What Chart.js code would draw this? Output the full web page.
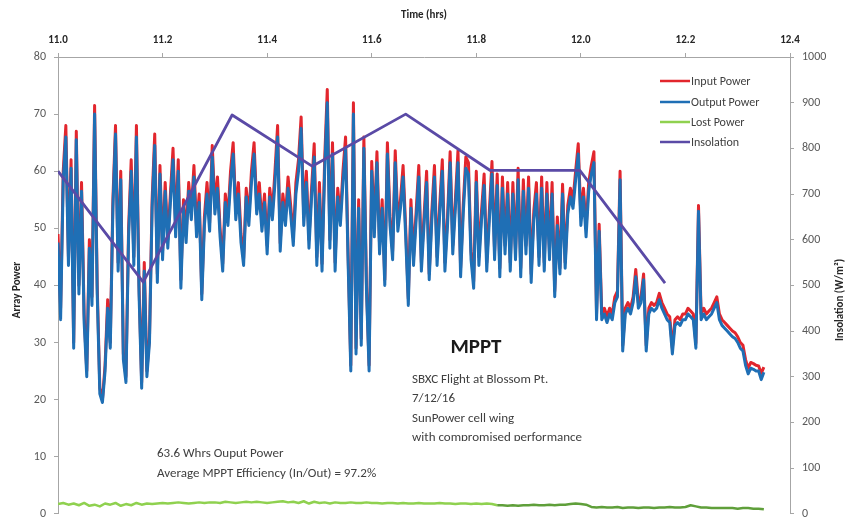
<!DOCTYPE html>
<html>
<head>
<meta charset="utf-8">
<script src="https://cdn.jsdelivr.net/npm/chart.js@4/dist/chart.umd.min.js"></script>
<style>
html,body{margin:0;padding:0;background:#ffffff;}
canvas{display:block;}
</style>
</head>
<body>
<canvas id="c" width="851" height="529"></canvas>
<script>
// ---- Data ----
const sampleStart = 11.0;      // hrs
const sampleStep = 0.005;      // hrs between samples

const inputPower = [
49,36,60,68,45,62,30,67,40,58,35,25,48,38,71.5,40,22,20,26,37.5,
30,55,68,44,60,28,24,50,62,45,68,40,23,44,25,31,55,66.5,42,61,
46,58,48,56,64,50,62,41,55,49,58,53,61,50,56,38.5,52,58,51,64.5,
54,59,50,43.8,56,52,60,65,53,58,49,44.7,57,52,60,65,54,58,51,56,
47,57,53,60,68,47.4,56,52,59,54,48.4,58,62,69.5,52,60,48,57,64.8,45,
58,43.8,62,74.3,48,65,44,57,52,60,66,45,26,72,29,55,30.7,66,40,26,
61.7,50,63.4,47,55,41,65,52,46,63.6,51,55,61,50,37.7,55,45,53,61,44,
52,60,42,53,61,45,54,62,44,52,63.4,47,55,63.6,43,54,62.5,61.5,46,40.7,
60,45,53,59.5,44,53,61.7,46,59.5,43,59,47,58,44,58,46,60.5,43,58.5,47,
59,42,53,58,45,59,44,58,46,58,39,52,43,57.7,44,54,57,55,60,64.8,
52,57,50,58,61,63.4,35,50.7,35,36,34.5,36,35,38,39,60,29.5,36,37,36,
38,42.8,37,38,42,29.5,36,37,36.5,37,38.6,37,36,35,34.5,29,34,34.5,34,35,
35,36,35.5,35,29.8,54,35,36,35,35.5,36,37,38,35,34,33.5,33,32.5,32,31.7,
31,30,29.5,27,25.5,26.5,26.3,26,25.9,24.6,25.7
];

const outputPower = [
47.5,34,58.5,66,43.5,60.5,29,65.5,38.5,56.5,33.5,24,46.5,36.5,70,38.5,21,19.5,25,36,
29,53.5,66.5,42.5,58.5,27,23,48.5,60,43.5,66,38.5,22,42.5,24,30,53.5,64.5,40.5,59.5,
44.5,56.5,46.5,54.5,62,48.5,60,39.5,53.5,47.5,56.5,51.5,59,48.5,54.5,37.5,50.5,56,49.5,62.5,
52.5,57,48.5,42.5,54.5,50.5,58,63,51.5,56,47.5,43.5,55.5,50.5,58,63,52.5,56,49.5,54.5,
45.5,55.5,51.5,58,66,46,54.5,50.5,57,52.5,47,56,60,67.5,50.5,58,46.5,55.5,62.5,43.5,
56,42.5,60,72,46.5,63,42.5,55.5,50.5,58,64,43.5,25,70,28,53.5,29.5,64,39,25,
60,48.5,61.5,45.5,53.5,40,63,50.5,44.5,61.5,49.5,53.5,59,48.5,36.5,53.5,43.5,51.5,59,42.5,
50.5,58,41,51.5,59,43.5,52.5,60,42.5,50.5,61.5,45.5,53.5,61.5,41.5,52.5,60.5,59.5,44.5,39.5,
58,43.5,51.5,57.5,42.5,51.5,59.5,44.5,57.5,41.5,57,45.5,56,42.5,56,44.5,58.5,41.5,56.5,45.5,
57,40.5,51.5,56,43.5,57,42.5,56,44.5,56,38,50.5,42,56,43,52.5,55.5,53.5,58.5,63,
50.5,55.5,48.5,56.5,59.5,61.5,34,49.5,34,35,33.5,35,34,37,38,58.5,28.5,35,36,35,
37,41.5,36,37,41,28.5,35,36,35.5,36,37.5,36,35,34,33.5,28,33,33.5,33,34,
34,35,34.5,34,29,53,34,35,34,34.5,35,36,37,34,33,32.5,32,31.5,31,30.7,
30,29,28.5,26,24.5,25.5,25.3,25,25,23.5,24.8
];

const lostStep = 0.01;         // hrs between lost-power samples
const lostPower = [
1.7,1.9,1.6,1.8,1.5,1.9,1.4,1.6,1.3,1.8,1.6,1.9,1.4,1.7,1.5,1.9,1.6,1.8,1.7,
1.8,1.9,1.8,1.9,2.0,1.9,1.8,1.9,2.0,1.9,2.0,2.0,1.9,2.1,2.0,1.9,2.0,2.1,2.0,2.1,2.0,
1.9,2.0,2.1,2.2,2.0,2.1,1.9,2.2,1.8,2.1,1.9,2.0,1.8,2.0,1.9,1.9,2.0,1.9,1.9,2.0,1.9,
1.9,1.8,1.9,1.9,1.8,1.9,1.8,1.8,1.9,1.8,1.8,1.8,1.9,1.8,1.8,1.7,1.8,1.8,1.7,1.8,1.7,1.8,1.7,
1.5,1.5,1.4,1.5,1.4,1.5,1.5,1.6,1.5,1.5,1.6,1.5,1.6,1.6,1.7,1.8,1.7,1.6,
1.2,1.1,1.2,1.1,1.1,1.2,1.0,1.1,1.1,1.0,1.1,1.1,1.0,1.1,1.1,1.2,1.1,1.1,1.2,1.5,1.3,1.1,
1.1,1.0,1.0,1.0,1.0,1.0,0.9,1.0,1.0,0.9,0.9,0.8
];

const insolationTime  = [11.0, 11.163, 11.333, 11.486, 11.665, 11.826, 11.998, 12.161];
const insolationValue = [750, 507, 873, 761, 875, 752, 752, 505];

const timeTicks = [11.0, 11.2, 11.4, 11.6, 11.8, 12.0, 12.2, 12.4];

// ---- build points ----
const toPts = (arr, step) => arr.map((v, i) => ({x: sampleStart + i * step, y: v}));
const inPts = toPts(inputPower, sampleStep);
const outPts = toPts(outputPower, sampleStep);
const lostPts = toPts(lostPower, lostStep);
const insPts = insolationTime.map((t, i) => ({x: t, y: insolationValue[i]}));

const FONT = 'Carlito, Lato, "Open Sans", sans-serif';
Chart.defaults.font.family = FONT;

const COLORS = {
  input: '#e2262d',
  output: '#1f6fb5',
  lost: '#8fd14f',
  lostDark: '#5f9f3a',
  ins: '#5a4aa6'
};

const textPlugin = {
  id: 'texts',
  afterDraw(chart) {
    const ctx = chart.ctx;
    ctx.save();
    ctx.fillStyle = '#262626';
    ctx.textBaseline = 'middle';
    ctx.font = 'bold 11px ' + FONT;
    ctx.textAlign = 'center';
    ctx.fillText('Time (hrs)', 424, 15);
    ctx.save();
    ctx.translate(17, 290);
    ctx.rotate(-Math.PI / 2);
    ctx.fillText('Array Power', 0, 0);
    ctx.restore();
    ctx.save();
    ctx.translate(840, 300);
    ctx.rotate(-Math.PI / 2);
    ctx.fillText('Insolation (W/m\u00B2)', 0, 0);
    ctx.restore();

    const items = [
      ['Input Power', COLORS.input, 81],
      ['Output Power', COLORS.output, 102],
      ['Lost Power', COLORS.lost, 122],
      ['Insolation', COLORS.ins, 142]
    ];
    ctx.font = '12px ' + FONT;
    ctx.textAlign = 'left';
    items.forEach(([label, col, y]) => {
      ctx.strokeStyle = col;
      ctx.lineWidth = 2.5;
      ctx.beginPath();
      ctx.moveTo(660, y);
      ctx.lineTo(690, y);
      ctx.stroke();
      ctx.fillStyle = '#404040';
      ctx.fillText(label, 691, y + 1);
    });

    ctx.fillStyle = '#1a1a1a';
    ctx.font = 'bold 21px ' + FONT;
    ctx.textAlign = 'center';
    ctx.fillText('MPPT', 476, 348);
    ctx.fillStyle = '#404040';
    ctx.font = '13px ' + FONT;
    ctx.textAlign = 'left';
    ctx.fillText('SBXC Flight at Blossom Pt.', 412, 380);
    ctx.fillText('7/12/16', 412, 399);
    ctx.fillText('SunPower cell wing', 412, 419);
    ctx.save();
    ctx.beginPath();
    ctx.rect(400, 425, 250, 16);
    ctx.clip();
    ctx.fillText('with compromised performance', 412, 438);
    ctx.restore();
    ctx.fillText('63.6 Whrs Ouput Power', 157, 454);
    ctx.fillText('Average MPPT Efficiency (In/Out) = 97.2%', 157, 474);
    ctx.restore();
  }
};

new Chart(document.getElementById('c'), {
  type: 'line',
  data: {
    datasets: [
      {label: 'Insolation', data: insPts, yAxisID: 'y2', borderColor: COLORS.ins, borderWidth: 2.8, pointRadius: 0, order: 0},
      {label: 'Output Power', data: outPts, yAxisID: 'y', borderColor: COLORS.output, borderWidth: 3, pointRadius: 0, order: 1},
      {label: 'Input Power', data: inPts, yAxisID: 'y', borderColor: COLORS.input, borderWidth: 3, pointRadius: 0, order: 2},
      {label: 'Lost Power', data: lostPts, yAxisID: 'y', borderColor: COLORS.lost, borderWidth: 2.5, pointRadius: 0, order: 3,
        segment: {borderColor: c => (c.p0.parsed.x >= 11.84 ? COLORS.lostDark : COLORS.lost)}}
    ]
  },
  options: {
    responsive: false,
    animation: false,
    devicePixelRatio: 1,
    layout: {padding: {top: 0, left: 0, right: 0, bottom: 8}},
    plugins: {legend: {display: false}, tooltip: {enabled: false}},
    elements: {line: {tension: 0, borderJoinStyle: 'round'}},
    scales: {
      x: {
        type: 'linear', position: 'top', min: 11.0, max: 12.4,
        afterBuildTicks: s => { s.ticks = timeTicks.map(v => ({value: v})); },
        afterFit: s => { s.height = 57; },
        ticks: {callback: v => Number(v).toFixed(1), color: '#262626', font: {size: 11, weight: 'bold'}, padding: 6, maxRotation: 0},
        grid: {drawOnChartArea: false, tickLength: 4, color: '#a6a6a6'},
        border: {color: '#a6a6a6', width: 1}
      },
      y: {
        position: 'left', min: 0, max: 80,
        ticks: {stepSize: 10, color: '#595959', font: {size: 12}, padding: 8, callback: v => String(v)},
        afterFit: s => { s.width = 58; },
        grid: {drawOnChartArea: false, tickLength: 4, color: '#a6a6a6'},
        border: {color: '#a6a6a6', width: 1}
      },
      y2: {
        position: 'right', min: 0, max: 1000,
        ticks: {stepSize: 100, color: '#595959', font: {size: 12}, padding: 8, callback: v => String(v)},
        afterFit: s => { s.width = 61; },
        grid: {drawOnChartArea: false, tickLength: 4, color: '#a6a6a6'},
        border: {color: '#a6a6a6', width: 1}
      }
    }
  },
  plugins: [textPlugin]
});
</script>
</body>
</html>
